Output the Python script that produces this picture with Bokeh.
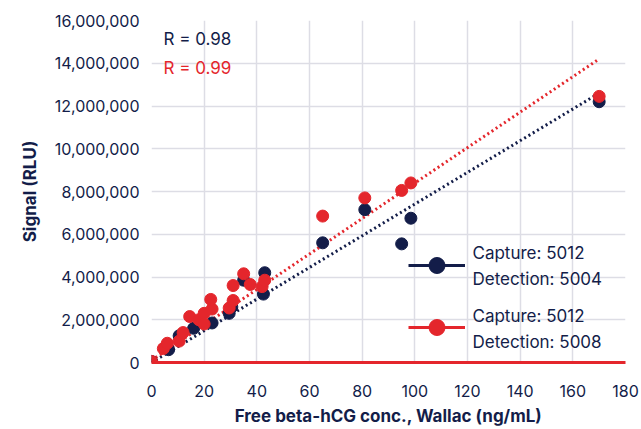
from bokeh.plotting import figure
from bokeh.models import (NumeralTickFormatter, Legend, LegendItem, Label,
                          FixedTicker, Range1d)
from bokeh.embed import file_html
from bokeh.resources import INLINE

nan = float("nan")

# Capture 5012 / Detection 5004 (navy series)
navy_x = [0, 6.5, 10.5, 16, 23, 29.5, 30.5, 35, 42.5, 43, 65, 81, 95, 98.5, 170]
navy_y = [50000, 600000, 1250000, 1600000, 1850000, 2300000, 2600000, 3850000,
          3200000, 4200000, 5600000, 7150000, 5550000, 6750000, 12200000]

# Capture 5012 / Detection 5008 (red series)
red_x = [0, 4.5, 6, 10.5, 12, 14.5, 18, 20, 20, 23, 22.5, 29.5, 31, 31, 35,
         37.5, 42, 43, 65, 81, 95, 98.5, 170]
red_y = [50000, 650000, 900000, 1000000, 1400000, 2150000, 2000000, 1800000,
         2300000, 2500000, 2950000, 2550000, 2900000, 3600000, 4150000,
         3650000, 3550000, 3850000, 6850000, 7700000, 8050000, 8400000, 12450000]

# Linear trend lines (start/end)
trend_x = [0, 170]
navy_trend_y = [0, 12600000]
red_trend_y = [100000, 14200000]

x_ticks = [0, 20, 40, 60, 80, 100, 120, 140, 160, 180]
y_ticks = [0, 2000000, 4000000, 6000000, 8000000, 10000000, 12000000,
           14000000, 16000000]

x_title = "Free beta-hCG conc., Wallac (ng/mL)"
y_title = "Signal (RLU)"
series_labels = [("Capture: 5012", "Detection: 5004"),
                 ("Capture: 5012", "Detection: 5008")]
r_labels = ["R = 0.98", "R = 0.99"]

NAVY = "#131d49"
RED = "#e4262c"
GRID = "#dddde5"
FONT = "Inter"

p = figure(width=641, height=429, output_backend="svg", toolbar_location=None,
           x_range=Range1d(0, 180), y_range=Range1d(0, 16000000),
           min_border_left=151, min_border_right=16, min_border_top=20,
           min_border_bottom=67)
p.outline_line_color = None
p.background_fill_color = "white"

p.xaxis.ticker = FixedTicker(ticks=x_ticks)
p.yaxis.ticker = FixedTicker(ticks=y_ticks)
p.yaxis.formatter = NumeralTickFormatter(format="0,0")

for ax in (p.xaxis, p.yaxis):
    ax.major_tick_line_color = None
    ax.minor_tick_line_color = None
    ax.major_tick_out = 0
    ax.major_tick_in = 0
    ax.minor_tick_out = 0
    ax.major_label_text_font = FONT
    ax.major_label_text_font_size = "16px"
    ax.major_label_text_color = NAVY
    ax.axis_label_text_font = FONT
    ax.axis_label_text_font_size = "17px"
    ax.axis_label_text_font_style = "bold"
    ax.axis_label_text_color = NAVY

p.yaxis.axis_line_color = None
p.xaxis.axis_line_color = RED
p.xaxis.axis_line_width = 3
p.xaxis.major_label_standoff = 22
p.yaxis.major_label_standoff = 12

p.xaxis.axis_label = x_title
p.xaxis.axis_label_standoff = 6
p.yaxis.axis_label = y_title
p.yaxis.axis_label_standoff = 12

p.grid.grid_line_color = GRID
p.grid.grid_line_width = 1.5

# trend lines
p.line(trend_x, navy_trend_y, line_color=NAVY, line_width=3, line_dash="2 3")
p.line(trend_x, red_trend_y, line_color=RED, line_width=3, line_dash="2 3")

# data points
p.scatter(navy_x, navy_y, size=12, fill_color=NAVY, line_color=NAVY)
p.scatter(red_x, red_y, size=12, fill_color=RED, line_color=RED)

# legend glyphs (line + marker); they hold no plotted data
nl = p.line([nan], [nan], line_color=NAVY, line_width=3)
nc = p.scatter([nan], [nan], size=16, fill_color=NAVY, line_color=NAVY)
rl = p.line([nan], [nan], line_color=RED, line_width=3)
rc = p.scatter([nan], [nan], size=16, fill_color=RED, line_color=RED)

legend = Legend(items=[
    LegendItem(label=" ", renderers=[nl, nc]),
    LegendItem(label=" ", renderers=[rl, rc]),
], location=(257, 15))
legend.border_line_color = None
legend.background_fill_alpha = 0
legend.label_text_font_size = "12px"
legend.glyph_width = 57
legend.glyph_height = 40
legend.label_height = 40
legend.label_standoff = 0
legend.spacing = 22
legend.padding = 0
legend.margin = 0
p.add_layout(legend)

# legend texts, two lines per series
for (top, bottom), y0 in zip(series_labels, [110, 47]):
    for txt, y in ((top, y0), (bottom, y0 - 26)):
        p.add_layout(Label(x=321, y=y, x_units="screen", y_units="screen",
                           text=txt, text_font=FONT, text_font_size="17px",
                           text_color=NAVY, text_baseline="middle"))

for txt, col, y in zip(r_labels, [NAVY, RED], [324, 295]):
    p.add_layout(Label(x=12, y=y, x_units="screen", y_units="screen",
                       text=txt, text_font=FONT, text_font_size="17px",
                       text_color=col, text_baseline="middle"))

open("out.html", "w").write(file_html(p, INLINE))
